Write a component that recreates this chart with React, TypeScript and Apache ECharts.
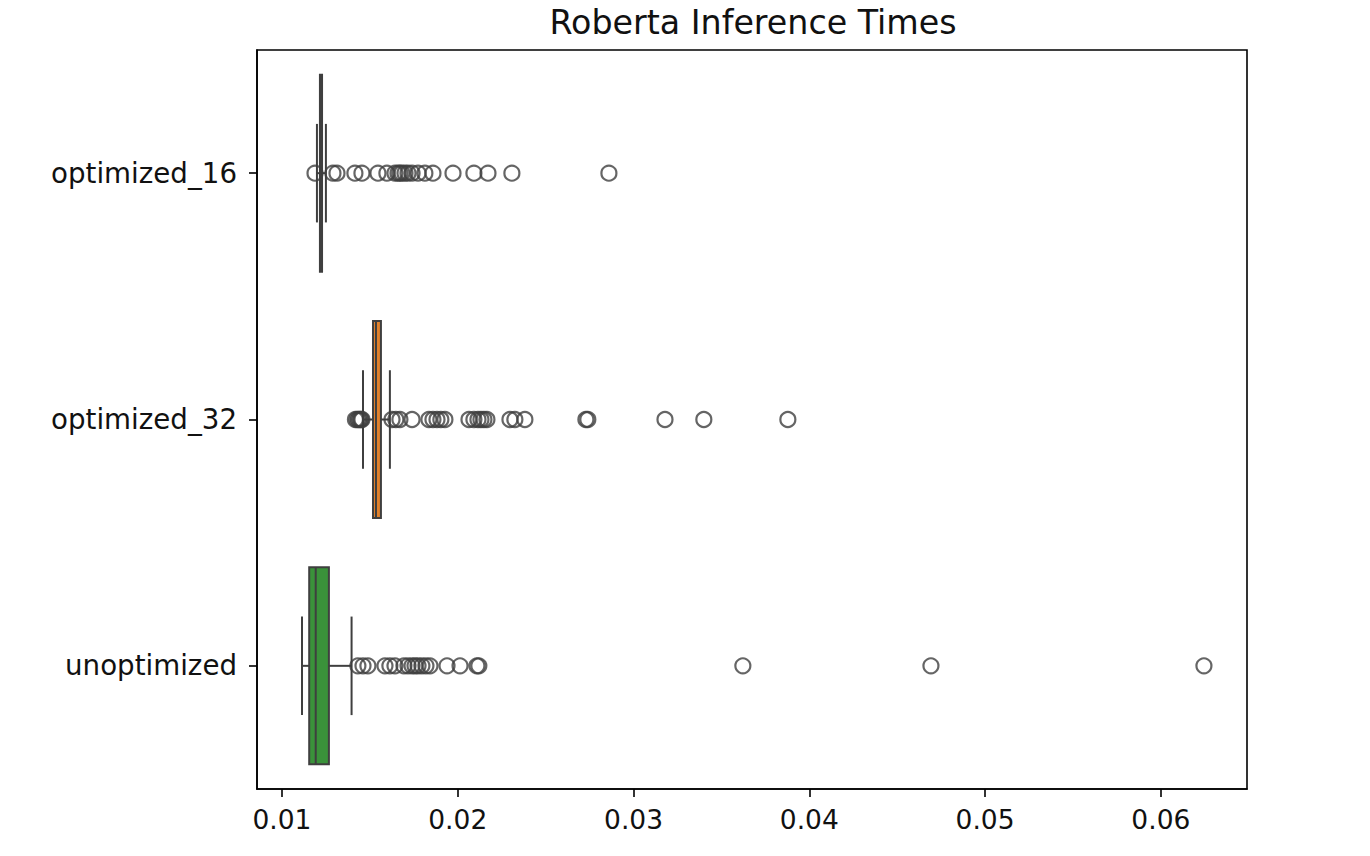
import React, { useEffect, useRef } from "react";
import * as echarts from "echarts";

const categories = ["optimized_16", "optimized_32", "unoptimized"];

// [lower whisker, Q1, median, Q3, upper whisker]
const opt16Box = [0.01199, 0.01216, 0.01222, 0.01228, 0.0125];
const opt32Box = [0.01461, 0.01518, 0.01535, 0.01563, 0.01614];
const unoptBox = [0.01114, 0.01155, 0.01192, 0.01267, 0.01396];

const opt16Outliers = [
  0.01188, 0.0129, 0.01313, 0.01415, 0.01455, 0.01546, 0.01597, 0.01643, 0.0166,
  0.01671, 0.01683, 0.017, 0.01717, 0.0174, 0.01774, 0.01813, 0.01859, 0.01973,
  0.02092, 0.02172, 0.02308, 0.0286,
];
const opt32Outliers = [
  0.01418, 0.01428, 0.01436, 0.01443, 0.0145, 0.01455, 0.01626, 0.01648, 0.01671,
  0.0174, 0.01836, 0.01859, 0.01882, 0.01904, 0.01927, 0.02064, 0.02092, 0.02115,
  0.02132, 0.02149, 0.02166, 0.02297, 0.02325, 0.02382, 0.02729, 0.0274, 0.03179,
  0.034, 0.03878,
];
const unoptOutliers = [
  0.01432, 0.01461, 0.01489, 0.01586, 0.01614, 0.01643, 0.01694, 0.01717, 0.0174,
  0.01757, 0.01774, 0.01796, 0.01819, 0.01842, 0.01939, 0.02013, 0.02109, 0.0212,
  0.03622, 0.04692, 0.06245,
];

const xTicks = [0.01, 0.02, 0.03, 0.04, 0.05, 0.06];
const boxColors = ["#3274a1", "#e1812c", "#3a923a"];

const LINE = "#3f3f3f";
const FONT = "DejaVu Sans";

export default function App() {
  const ref = useRef<HTMLDivElement>(null);

  useEffect(() => {
    if (!ref.current) return;
    const chart = echarts.init(ref.current, undefined, { renderer: "svg" });

    const boxes = [opt16Box, opt32Box, unoptBox];
    const boxData = boxes.map((b, i) => [i, ...b]);
    const outlierSets = [opt16Outliers, opt32Outliers, unoptOutliers];
    const outlierData: number[][] = [];
    outlierSets.forEach((set, i) => set.forEach((v) => outlierData.push([v, i])));

    const renderItem = (params: any, api: any) => {
      const ci = api.value(0);
      const lo = api.value(1);
      const q1 = api.value(2);
      const med = api.value(3);
      const q3 = api.value(4);
      const hi = api.value(5);
      const band = api.size([0, 1])[1];
      const half = band * 0.4;
      const capHalf = band * 0.2;
      const pLo = api.coord([lo, ci]);
      const pQ1 = api.coord([q1, ci]);
      const pMed = api.coord([med, ci]);
      const pQ3 = api.coord([q3, ci]);
      const pHi = api.coord([hi, ci]);
      const y = pMed[1];
      const lineStyle = { stroke: LINE, lineWidth: 2, fill: null };
      return {
        type: "group",
        children: [
          {
            type: "rect",
            shape: { x: pQ1[0], y: y - half, width: pQ3[0] - pQ1[0], height: half * 2 },
            style: { fill: boxColors[ci], stroke: LINE, lineWidth: 2 },
          },
          { type: "line", shape: { x1: pLo[0], y1: y, x2: pQ1[0], y2: y }, style: lineStyle },
          { type: "line", shape: { x1: pQ3[0], y1: y, x2: pHi[0], y2: y }, style: lineStyle },
          { type: "line", shape: { x1: pLo[0], y1: y - capHalf, x2: pLo[0], y2: y + capHalf }, style: lineStyle },
          { type: "line", shape: { x1: pHi[0], y1: y - capHalf, x2: pHi[0], y2: y + capHalf }, style: lineStyle },
          { type: "line", shape: { x1: pMed[0], y1: y - half, x2: pMed[0], y2: y + half }, style: lineStyle },
        ],
      };
    };

    chart.setOption({
      animation: false,
      backgroundColor: "#ffffff",
      title: {
        text: "Roberta Inference Times",
        left: 748,
        top: 1,
        textAlign: "center",
        textStyle: { fontFamily: FONT, fontSize: 33.3, fontWeight: "normal", color: "#111" },
      },
      grid: {
        left: 257,
        right: 123,
        top: 50,
        bottom: 67,
        show: true,
        borderColor: "#000",
        borderWidth: 1.6,
        backgroundColor: "transparent",
      },
      xAxis: {
        type: "value",
        min: 0.00858,
        max: 0.0649,
        splitLine: { show: false },
        axisLine: { show: true, lineStyle: { color: "#000", width: 1.6 } },
        axisTick: {
          show: true,
          length: 8,
          lineStyle: { color: "#000", width: 1.6 },
          customValues: xTicks,
        },
        axisLabel: {
          customValues: xTicks,
          formatter: (v: number) => v.toFixed(2),
          fontFamily: FONT,
          fontSize: 26.5,
          color: "#111",
          margin: 17,
        },
      },
      yAxis: {
        type: "category",
        data: categories,
        inverse: true,
        axisLine: { show: true, lineStyle: { color: "#000", width: 1.6 } },
        axisTick: { show: true, alignWithLabel: true, length: 8, lineStyle: { color: "#000", width: 1.6 } },
        axisLabel: { fontFamily: FONT, fontSize: 27.7, color: "#111", margin: 20 },
        splitLine: { show: false },
      },
      series: [
        {
          type: "custom",
          renderItem,
          data: boxData,
          encode: { x: [1, 2, 3, 4, 5], y: 0 },
          z: 2,
        },
        {
          type: "scatter",
          data: outlierData,
          symbol: "circle",
          symbolSize: 15,
          itemStyle: { color: "rgba(0,0,0,0)", borderColor: LINE, borderWidth: 2.2 },
          z: 3,
        },
      ],
    });

    return () => chart.dispose();
  }, []);

  return (
    <div
      ref={ref}
      style={{ position: "fixed", left: 0, top: 0, width: 1370, height: 856, background: "#fff" }}
    />
  );
}
